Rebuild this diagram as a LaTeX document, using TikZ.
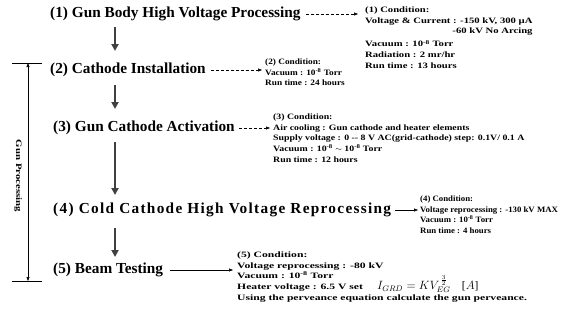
\documentclass[tikz,border=0pt]{standalone}
\usepackage{fontspec}
\setmainfont{Liberation Serif}
\newfontfamily\condfont[FakeStretch=1.3]{Liberation Serif}
\newfontfamily\condfontb[FakeStretch=1.13]{Liberation Serif}
\newfontfamily\condfontc[FakeStretch=1.2]{Liberation Serif}
\newfontfamily\condfontd[FakeStretch=1.07]{Liberation Serif}
\newfontfamily\condfonte[FakeStretch=1.42]{Liberation Serif}
\usetikzlibrary{arrows.meta}
\begin{document}
\begin{tikzpicture}[x=1pt,y=-1pt,
  mainlabel/.style={anchor=west,inner sep=0pt,font=\bfseries\fontsize{15.3}{17}\selectfont},
  condbox/.style={anchor=north west,inner sep=0pt,font=#1\bfseries\fontsize{8.2}{10.6}\selectfont},
  condbox/.default=\condfont,
  downarrow/.style={line width=1.8pt,draw=black!75,-{Triangle[width=7pt,length=7pt]}},
  sidearrow/.style={line width=0.5pt,-{Triangle[width=3pt,length=4pt]}},
  dottedarrow/.style={sidearrow,densely dashed}]
\useasboundingbox (0,0) rectangle (581,324);
% main steps
\node[mainlabel] (m1) at (50,14) {(1) Gun Body High Voltage Processing};
\node[mainlabel] (m2) at (50,70) {(2) Cathode Installation};
\node[mainlabel] (m3) at (53,128) {(3) Gun Cathode Activation};
\node[mainlabel] (m4) at (53,210) {\addfontfeature{LetterSpace=8.5}(4) Cold Cathode High Voltage Reprocessing};
\node[mainlabel] (m5) at (53,270) {(5) Beam Testing};
% vertical flow anchors
\coordinate (a1s) at (115,27); \coordinate (a1e) at (115,51);
\coordinate (a2s) at (115,85); \coordinate (a2e) at (115,109);
\coordinate (a3s) at (115,142); \coordinate (a3e) at (115,195);
\coordinate (a4s) at (115,228); \coordinate (a4e) at (115,257);
\draw[downarrow] (a1s) -- (a1e);
\draw[downarrow] (a2s) -- (a2e);
\draw[downarrow] (a3s) -- (a3e);
\draw[downarrow] (a4s) -- (a4e);
% conditions
\node[condbox] (c1) at (365,5) {\begin{tabular}{@{}l@{}}
(1) Condition:\\
Voltage \& Current : -150 kV, 300 µA\\
\multicolumn{1}{@{}r@{}}{-60 kV No Arcing}\\[2.5pt]
Vacuum : 10\textsuperscript{-8} Torr\\
Radiation : 2 mr/hr\\
Run time : 13 hours
\end{tabular}};
\node[condbox=\condfontb] (c2) at (265,57) {\begin{tabular}{@{}l@{}}
(2) Condition:\\
Vacuum : 10\textsuperscript{-8} Torr\\
Run time : 24 hours
\end{tabular}};
\node[condbox=\condfontc] (c3) at (273,112) {\begin{tabular}{@{}l@{}}
(3) Condition:\\
Air cooling : Gun cathode and heater elements\\
Supply voltage : 0 -- 8 V AC(grid-cathode) step: 0.1V/ 0.1 A\\
Vacuum : 10\textsuperscript{-8} $\sim$ 10\textsuperscript{-8} Torr\\
Run time : 12 hours
\end{tabular}};
\node[condbox=\condfontd] (c4) at (420,194) {\begin{tabular}{@{}l@{}}
(4) Condition:\\
Voltage reprocessing : -130 kV MAX\\
Vacuum : 10\textsuperscript{-8} Torr\\
Run time : 4 hours
\end{tabular}};
\node[condbox=\condfonte] (c5) at (237,250) {\begin{tabular}{@{}l@{}}
(5) Condition:\\
Voltage reprocessing : -80 kV\\
Vacuum : 10\textsuperscript{-8} Torr\\
Heater voltage : 6.5 V set\\
Using the perveance equation calculate the gun perveance.
\end{tabular}};
\node[anchor=west,inner sep=0pt,font=\fontsize{11.5}{13}\selectfont] (eq) at (377,284)
  {$I_{GRD} = K V_{EG}^{\,\frac{3}{2}}$\quad[$A$]};
% side arrows
\draw[dottedarrow] ([xshift=5pt]m1.east) -- ([xshift=-7pt]m1.east -| c1.west);
\draw[dottedarrow] ([xshift=5pt]m2.east) -- ([xshift=-3pt]m2.east -| c2.west);
\draw[dottedarrow] ([xshift=4pt]m3.east) -- ([xshift=-3pt]m3.east -| c3.west);
\draw[sidearrow] ([xshift=4pt]m4.east) -- ([xshift=-2pt]m4.east -| c4.west);
\draw[sidearrow] ([xshift=7pt]m5.east) -- ([xshift=-4pt]m5.east -| c5.west);
% gun processing bracket
\coordinate (btl) at (12,63); \coordinate (btr) at (42,63);
\coordinate (bbl) at (12,281); \coordinate (bbr) at (42,281);
\coordinate (bt) at (28,63); \coordinate (bb) at (28,281);
\draw[line width=0.6pt] (btl) -- (btr);
\draw[line width=0.6pt] (bbl) -- (bbr);
\draw[line width=0.6pt,{Triangle[width=3pt,length=4pt]}-{Triangle[width=3pt,length=4pt]}] (bt) -- (bb);
\node[rotate=-90,inner sep=0pt,font=\condfont\bfseries\fontsize{8.3}{9}\selectfont] (gp) at (18,176) {Gun Processing};
\end{tikzpicture}
\end{document}
